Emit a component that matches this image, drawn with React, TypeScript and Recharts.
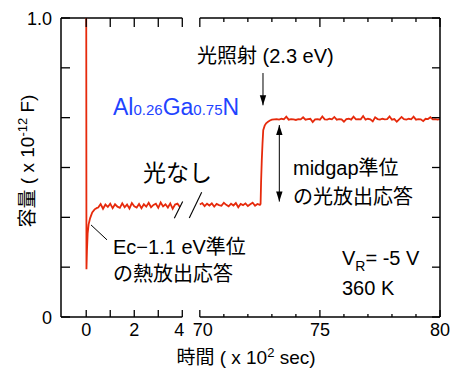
import React from 'react';
import { LineChart, Line, XAxis, YAxis, ReferenceLine } from 'recharts';

const W = 458;
const H = 369;
const FONT = '"Liberation Sans", Arial, "Noto Sans CJK JP", sans-serif';
const RED = '#e62a0c';
const BLUE = '#1f44ff';

// broken time axis: 0-4 and 70-80 (x 10^2 sec) joined on one scale
const GAP_START = 4.73; // where t = 70 sits on the joined scale
const U_MIN = -1.05;
const U_MAX = 14.73;
const toU = (t: number) => (t >= 50 ? t - 70 + GAP_START : t);
const fromU = (u: number) =>
  u > 4.4 ? Math.round((u - GAP_START + 70) * 100) / 100 : Math.round(u * 100) / 100;

const leftTicks = [0, 1, 2, 3, 4];
const rightTicks = [70, 71, 72, 73, 74, 75, 76, 77, 78, 79, 80];
const labelTicks = [0, 2, 4, 70, 75, 80];
const rightMajor = [70, 75, 80];
const yTicks = [0, 1 / 6, 2 / 6, 3 / 6, 4 / 6, 5 / 6, 1];

// thermal emission transient right after the bias step
const transientTime = [0, 0.01, 0.03, 0.06, 0.1, 0.16, 0.25, 0.35, 0.45];
const transientCap = [1.1, 0.16, 0.22, 0.28, 0.31, 0.33, 0.35, 0.36, 0.365];

// dark level, t = 0.5 ... 3.9 every 0.1
const darkStart = 0.5;
const darkCap = [
  0.366, 0.378, 0.362, 0.376, 0.368, 0.379, 0.364, 0.377, 0.369, 0.365,
  0.38, 0.367, 0.376, 0.363, 0.381, 0.37, 0.366, 0.378, 0.364, 0.377,
  0.369, 0.382, 0.367, 0.375, 0.379, 0.365, 0.383, 0.37, 0.377, 0.366,
  0.38, 0.362, 0.376, 0.379, 0.368,
];

// dark level after the break, t = 70.0 ... 72.5 every 0.1
const dark2Start = 70;
const dark2Cap = [
  0.376, 0.381, 0.371, 0.379, 0.373, 0.38, 0.369, 0.378, 0.374, 0.372,
  0.382, 0.375, 0.37, 0.379, 0.373, 0.381, 0.367, 0.378, 0.374, 0.38,
  0.371, 0.377, 0.382, 0.372, 0.378, 0.375,
];

// light on (2.3 eV)
const riseTime = [72.53, 72.55, 72.58, 72.61, 72.64, 72.7, 72.76, 72.84, 72.92, 73.0];
const riseCap = [0.378, 0.45, 0.525, 0.58, 0.625, 0.64, 0.648, 0.653, 0.657, 0.66];

// illuminated level, t = 73.1 ... 80.0 every 0.1
const lightStart = 73.1;
const lightCap = [
  0.661, 0.662, 0.66, 0.663, 0.661, 0.67, 0.66, 0.662, 0.661, 0.659,
  0.662, 0.661, 0.668, 0.66, 0.662, 0.663, 0.652, 0.661, 0.662, 0.66,
  0.671, 0.661, 0.66, 0.663, 0.661, 0.669, 0.66, 0.662, 0.661, 0.653,
  0.662, 0.663, 0.66, 0.67, 0.661, 0.662, 0.661, 0.672, 0.66, 0.663,
  0.661, 0.654, 0.668, 0.662, 0.66, 0.663, 0.661, 0.662, 0.671, 0.66,
  0.662, 0.653, 0.661, 0.669, 0.662, 0.66, 0.663, 0.661, 0.67, 0.66,
  0.662, 0.661, 0.655, 0.663, 0.662, 0.668, 0.661, 0.662, 0.66, 0.662,
];

const sampled = (start: number, vals: number[]) =>
  vals.map((v, i) => ({ u: toU(+(start + i * 0.1).toFixed(2)), v }));

const leftData = [
  ...transientTime.map((t, i) => ({ u: toU(t), v: transientCap[i] })),
  ...sampled(darkStart, darkCap),
];
const rightData = [
  ...sampled(dark2Start, dark2Cap),
  ...riseTime.map((t, i) => ({ u: toU(t), v: riseCap[i] })),
  ...sampled(lightStart, lightCap),
];

const xTicks = [...leftTicks, ...rightTicks].map(toU);

function BottomTick(props: any) {
  const { x, y, payload } = props;
  const t = fromU(payload.value);
  const len = t < 50 || rightMajor.includes(t) ? 7 : 3;
  const dx = t === 4 ? -3 : t === 70 ? 3 : 0;
  return (
    <g>
      <line x1={x} y1={y} x2={x} y2={y - len} stroke="#000" strokeWidth={1.3} />
      {labelTicks.includes(t) && (
        <text x={x + dx} y={y + 19} textAnchor="middle" fontSize={18} fontFamily={FONT} fill="#000">
          {t}
        </text>
      )}
    </g>
  );
}

function TopTick(props: any) {
  const { x, y, payload } = props;
  const t = fromU(payload.value);
  const len = t < 50 || rightMajor.includes(t) ? 9 : 4;
  return <line x1={x} y1={y} x2={x} y2={y + len} stroke="#000" strokeWidth={1.3} />;
}

function LeftTick(props: any) {
  const { x, y, payload } = props;
  const v = payload.value;
  const label = v === 0 ? '0' : Math.abs(v - 1) < 1e-6 ? '1.0' : '';
  return (
    <g>
      <line x1={x} y1={y} x2={x + 9} y2={y} stroke="#000" strokeWidth={1.3} />
      {label && (
        <text x={x - 9} y={y + 6.5} textAnchor="end" fontSize={18} fontFamily={FONT} fill="#000">
          {label}
        </text>
      )}
    </g>
  );
}

function RightTick(props: any) {
  const { x, y } = props;
  return <line x1={x} y1={y} x2={x - 8} y2={y} stroke="#000" strokeWidth={1.3} />;
}

function ArrowShape(props: any) {
  const { x1, y1, x2, y2, both } = props;
  const head = (xa: number, ya: number, xb: number, yb: number) => {
    const a = Math.atan2(yb - ya, xb - xa);
    const L = 10;
    const hw = 3.2;
    const bx = xb - L * Math.cos(a);
    const by = yb - L * Math.sin(a);
    const px = -Math.sin(a) * hw;
    const py = Math.cos(a) * hw;
    return `M${xb},${yb} L${bx + px},${by + py} L${bx - px},${by - py} Z`;
  };
  return (
    <g>
      <line x1={x1} y1={y1} x2={x2} y2={y2} stroke="#000" strokeWidth={1} />
      <path d={head(x1, y1, x2, y2)} fill="#000" />
      {both && <path d={head(x2, y2, x1, y1)} fill="#000" />}
    </g>
  );
}

// axis pieces and break marks (joined-scale coordinates)
const axisSegments = [
  [U_MIN, 0, 4, 0],
  [GAP_START, 0, U_MAX, 0],
  [U_MIN, 1, 4, 1],
  [GAP_START, 1, U_MAX, 1],
];
const breakMarks = [
  [3.667, 0.33, 4.017, 0.386],
  [4.291, 0.331, 4.808, 0.417],
];

export default function App() {
  return (
    <div style={{ position: 'absolute', left: 0, top: 0, width: W, height: H, background: '#fff' }}>
      <LineChart width={W} height={H} margin={{ top: 17, right: 17, bottom: 51, left: 60 }}>
        <XAxis
          xAxisId="b"
          type="number"
          dataKey="u"
          domain={[U_MIN, U_MAX]}
          allowDataOverflow
          ticks={xTicks}
          interval={0}
          tick={<BottomTick />}
          tickLine={false}
          axisLine={false}
          tickSize={0}
          tickMargin={0}
          height={1}
        />
        <XAxis
          xAxisId="t"
          orientation="top"
          type="number"
          dataKey="u"
          domain={[U_MIN, U_MAX]}
          allowDataOverflow
          ticks={xTicks}
          interval={0}
          tick={<TopTick />}
          tickLine={false}
          axisLine={false}
          tickSize={0}
          tickMargin={0}
          height={1}
        />
        <YAxis
          yAxisId="l"
          type="number"
          domain={[0, 1]}
          allowDataOverflow
          ticks={yTicks}
          interval={0}
          tick={<LeftTick />}
          tickLine={false}
          axisLine={{ stroke: '#000', strokeWidth: 1.5 }}
          tickSize={0}
          tickMargin={0}
          width={1}
        />
        <YAxis
          yAxisId="r"
          orientation="right"
          type="number"
          domain={[0, 1]}
          allowDataOverflow
          ticks={yTicks}
          interval={0}
          tick={<RightTick />}
          tickLine={false}
          axisLine={{ stroke: '#000', strokeWidth: 1.5 }}
          tickSize={0}
          tickMargin={0}
          width={1}
        />

        {axisSegments.map(([xa, ya, xb, yb], i) => (
          <ReferenceLine
            key={`ax-${i}`}
            xAxisId="b"
            yAxisId="l"
            ifOverflow="visible"
            segment={[{ x: xa, y: ya }, { x: xb, y: yb }]}
            stroke="#000"
            strokeWidth={1.5}
          />
        ))}

        <Line xAxisId="b" yAxisId="l" data={leftData} dataKey="v" type="linear" stroke={RED} strokeWidth={1.8} dot={false} isAnimationActive={false} />
        <Line xAxisId="b" yAxisId="l" data={rightData} dataKey="v" type="linear" stroke={RED} strokeWidth={1.8} dot={false} isAnimationActive={false} />

        {breakMarks.map(([xa, ya, xb, yb], i) => (
          <ReferenceLine
            key={`br-${i}`}
            xAxisId="b"
            yAxisId="l"
            ifOverflow="visible"
            segment={[{ x: xa, y: ya }, { x: xb, y: yb }]}
            stroke="#000"
            strokeWidth={1.1}
          />
        ))}

        {/* Ec-1.1 eV leader line */}
        <ReferenceLine xAxisId="b" yAxisId="l" ifOverflow="visible" segment={[{ x: 0.199, y: 0.308 }, { x: 0.865, y: 0.258 }]} stroke="#000" strokeWidth={1} />
        {/* light on arrow */}
        <ReferenceLine
          xAxisId="b"
          yAxisId="l"
          ifOverflow="visible"
          segment={[{ x: toU(72.63), y: 0.816 }, { x: toU(72.63), y: 0.708 }]}
          shape={(p: any) => <ArrowShape {...p} />}
        />
        {/* midgap step arrow */}
        <ReferenceLine
          xAxisId="b"
          yAxisId="l"
          ifOverflow="visible"
          segment={[{ x: toU(73.31), y: 0.642 }, { x: toU(73.31), y: 0.386 }]}
          shape={(p: any) => <ArrowShape {...p} both />}
        />
      </LineChart>

      <svg width={W} height={H} style={{ position: 'absolute', left: 0, top: 0, pointerEvents: 'none' }}>
        <g fontFamily={FONT}>
          <text x={34} y={161} transform="rotate(-90 34 161)" textAnchor="middle" fontSize={19} fill="#000">
            容量 ( x 10<tspan fontSize={13} dy={-7}>-12</tspan>
            <tspan dy={7}> F)</tspan>
          </text>
          <text x={246} y={364} textAnchor="middle" fontSize={19} fill="#000">
            時間 ( x 10<tspan fontSize={13} dy={-7}>2</tspan>
            <tspan dy={7}> sec)</tspan>
          </text>
          <text x={197} y={63} fontSize={20} fill="#000">光照射 (2.3 eV)</text>
          <text x={113} y={115} fontSize={23} fill={BLUE}>
            Al<tspan fontSize={15}>0.26</tspan>Ga<tspan fontSize={15}>0.75</tspan>N
          </text>
          <text x={143} y={181} fontSize={23} fill="#000">光なし</text>
          <text x={293} y={175} fontSize={20} fill="#000">midgap準位</text>
          <text x={293} y={204} fontSize={20} fill="#000">の光放出応答</text>
          <text x={113} y={254} fontSize={20} fill="#000">Ec−1.1 eV準位</text>
          <text x={113} y={281} fontSize={20} fill="#000">の熱放出応答</text>
          <text x={342} y={265} fontSize={20} fill="#000">
            V<tspan fontSize={14} dy={6}>R</tspan>
            <tspan dy={-6}>= -5 V</tspan>
          </text>
          <text x={342} y={295} fontSize={20} fill="#000">360 K</text>
        </g>
      </svg>
    </div>
  );
}
